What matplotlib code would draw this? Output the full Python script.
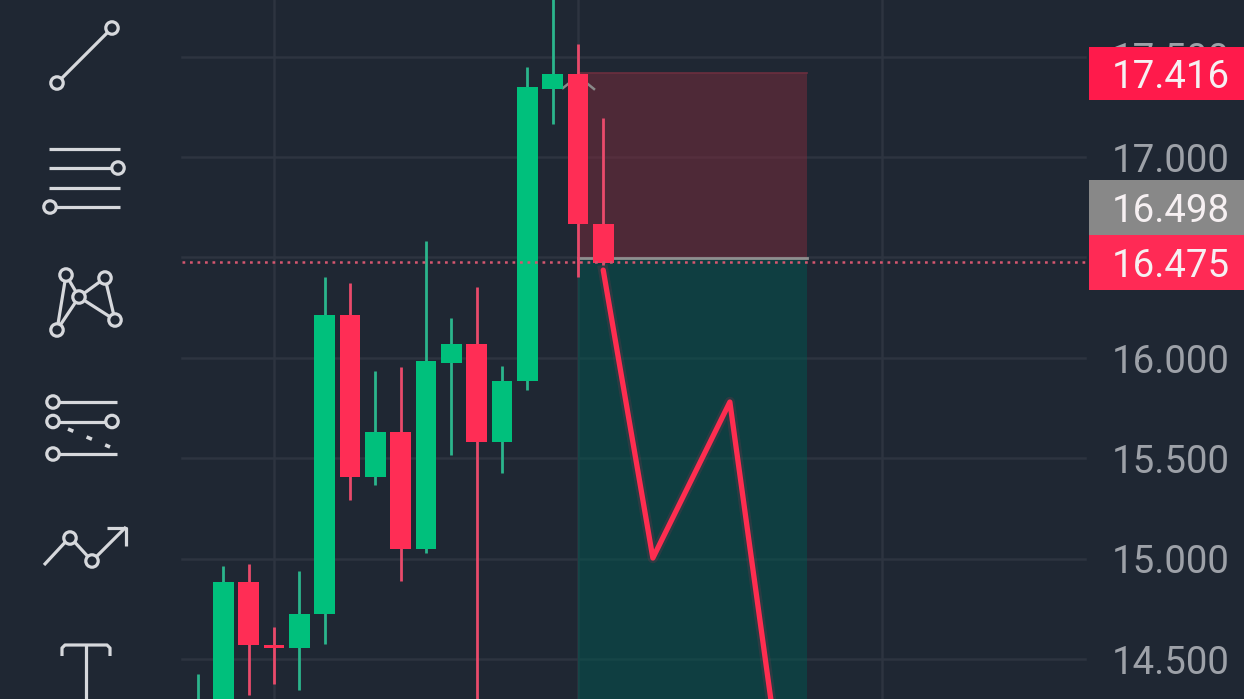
#!/usr/bin/env python3
"""Dark candlestick screenshot with a short position box and drawing toolbar."""

import matplotlib
matplotlib.use("Agg")
import matplotlib.pyplot as plt
from matplotlib.patches import Circle, Rectangle

BG = "#1f2733"
GRID = "#2d3440"
UP = "#00c07c"
DOWN = "#ff2d55"
UP_WICK = "#2bb58c"
DOWN_WICK = "#e94a6b"
ICON = "#d6d8dc"

# candles
opens = [14.00, 14.20, 14.883, 14.570, 14.555, 14.724, 16.213, 15.406, 15.630, 15.048,
         15.974, 16.069, 15.581, 15.884, 17.339, 17.413, 16.666]
closes = [14.20, 14.883, 14.570, 14.555, 14.724, 16.213, 15.406, 15.630, 15.048, 15.984,
          16.069, 15.581, 15.884, 17.349, 17.413, 16.666, 16.472]
highs = [14.425, 14.963, 14.973, 14.659, 14.938, 16.402, 16.373, 15.934, 15.954, 16.582,
         16.198, 16.353, 15.959, 17.448, 18.00, 17.563, 17.194]
lows = [13.90, 14.10, 14.321, 14.375, 14.346, 14.575, 15.292, 15.367, 14.888, 15.028,
        15.516, 14.00, 15.426, 15.840, 17.164, 16.402, 16.460]

tick_prices = [17.5, 17.0, 16.5, 16.0, 15.5, 15.0, 14.5]
tick_labels = ["17.500", "17.000", None, "16.000", "15.500", "15.000", "14.500"]
vgrid_idx = [3, 15, 27]

stop_price = 17.416
entry_price = 16.498
last_price = 16.475
box_start = 15
box_end = 24.04

path_idx = [16.0, 17.96, 21.0, 23.0]
path_price = [16.437, 15.003, 15.780, 13.95]

W, H = 1244, 699
fig = plt.figure(figsize=(W / 100, H / 100), dpi=100, facecolor=BG)

# main chart, y in price and x in candle index
ax = fig.add_axes([0, 0, 1, 1], facecolor=BG)
ax.set_xlim(-7.817, 41.30)
ax.set_ylim(14.301, 17.782)
ax.axis("off")

# overlay in screen pixels for the toolbar and chrome
ov = fig.add_axes([0, 0, 1, 1], facecolor="none")
ov.set_xlim(0, W)
ov.set_ylim(H, 0)
ov.axis("off")

grid_left = 182 / W
grid_right = 1085 / W
for p in tick_prices:
    ax.axhline(p, xmin=grid_left, xmax=grid_right, color=GRID, lw=1.8, zorder=1)
for i in vgrid_idx:
    ax.axvline(i, color=GRID, lw=1.8, zorder=1)

# position box
ax.fill_between([box_start, box_end], entry_price, stop_price, color="#7a2c3c", alpha=0.52, lw=0, zorder=2)
ax.fill_between([box_start, box_end], 14.0, entry_price, color="#00564f", alpha=0.5, lw=0, zorder=2)
ax.plot([box_start, box_end], [stop_price, stop_price], color="#6b2f3f", lw=1.2, zorder=2)
ax.plot([box_start, box_end], [entry_price, entry_price], color="#8f8f8f", lw=2.0, zorder=2)

# small chevron tucked behind the big red candle
ax.plot([563, 578, 594], [88, 76, 89], color="#8a8a8a", lw=1.8, zorder=2.5, transform=ov.transData)

for i, (o, c, h, l) in enumerate(zip(opens, closes, highs, lows)):
    up = c >= o
    ax.vlines(i, l, h, color=UP_WICK if up else DOWN_WICK, lw=2.0, zorder=3)
    ax.bar(i, abs(c - o), bottom=min(o, c), width=0.82, color=UP if up else DOWN, lw=0, zorder=4)

ax.plot(
    [-7.817 + 182 / 25.33, 41.3 - 159 / 25.33],
    [last_price, last_price],
    color="#d4566f",
    lw=1.8,
    dashes=(1.1, 1.9),
    zorder=5,
)

# drawn path, soft glow underneath
ax.plot(path_idx, path_price, color=DOWN, lw=7.5, alpha=0.12, zorder=5, solid_joinstyle="round")
ax.plot(path_idx, path_price, color="#ff2d50", lw=3.8, zorder=6, solid_joinstyle="round", solid_capstyle="round")

# price axis text
FONT = "Roboto"
for p, lab in zip(tick_prices, tick_labels):
    if lab:
        ax.annotate(lab, (1229.5 / W, p), xycoords=("axes fraction", "data"), xytext=(0, -3),
                    textcoords="offset points", ha="right", va="center",
                    fontsize=27.6, family=FONT, color="#9da1a8", zorder=7)


def price_tag(top, bottom, color, label):
    ov.add_patch(Rectangle((1089, top), 155, bottom - top, color=color, lw=0, zorder=8))
    ov.text(1229.5, (top + bottom) / 2 + 4, label, ha="right", va="center", fontsize=27.6, family=FONT,
            color="#f6f0f2", zorder=9)


price_tag(47, 100, "#ff1a4b", f"{stop_price:.3f}")
price_tag(180, 235, "#888888", f"{entry_price:.3f}")
price_tag(235, 290, "#ff2a55", f"{last_price:.3f}")


# toolbar icons
def seg(*pts):
    xs, ys = zip(*pts)
    ov.plot(xs, ys, color=ICON, lw=2.3, solid_capstyle="butt", zorder=10)


def knob(x, y):
    ov.add_patch(Circle((x, y), 6.2, facecolor=BG, edgecolor=ICON, lw=2.3, zorder=11))


seg((57, 83), (112, 28))
knob(57, 83)
knob(112, 28)

for y in (149, 168, 188, 207):
    seg((49, y), (120, y))
knob(118, 168)
knob(50, 207)

seg((57, 330), (66, 275), (79, 297), (57, 330))
seg((79, 297), (105, 278), (115, 320), (79, 297))
for x, y in [(66, 275), (105, 278), (79, 297), (115, 320), (57, 330)]:
    knob(x, y)

seg((53, 402), (117, 402))
seg((53, 421.5), (112, 421.5))
seg((53, 454), (117, 454))
ov.plot([68, 110], [429, 447], color=ICON, lw=2.6, dashes=(1.6, 4.0), zorder=10)
knob(53, 402)
knob(53, 421.5)
knob(112, 421.5)
knob(53, 454)

seg((44, 565), (70, 537), (92, 561), (126, 527))
seg((107, 528), (126, 528), (126, 546))
knob(70, 538)
knob(92, 561)

seg((62, 656), (62, 648), (65, 645), (107, 645), (110, 648), (110, 656))
seg((86, 645), (86, 699))

fig.savefig("out.png", dpi=100, facecolor=BG)
